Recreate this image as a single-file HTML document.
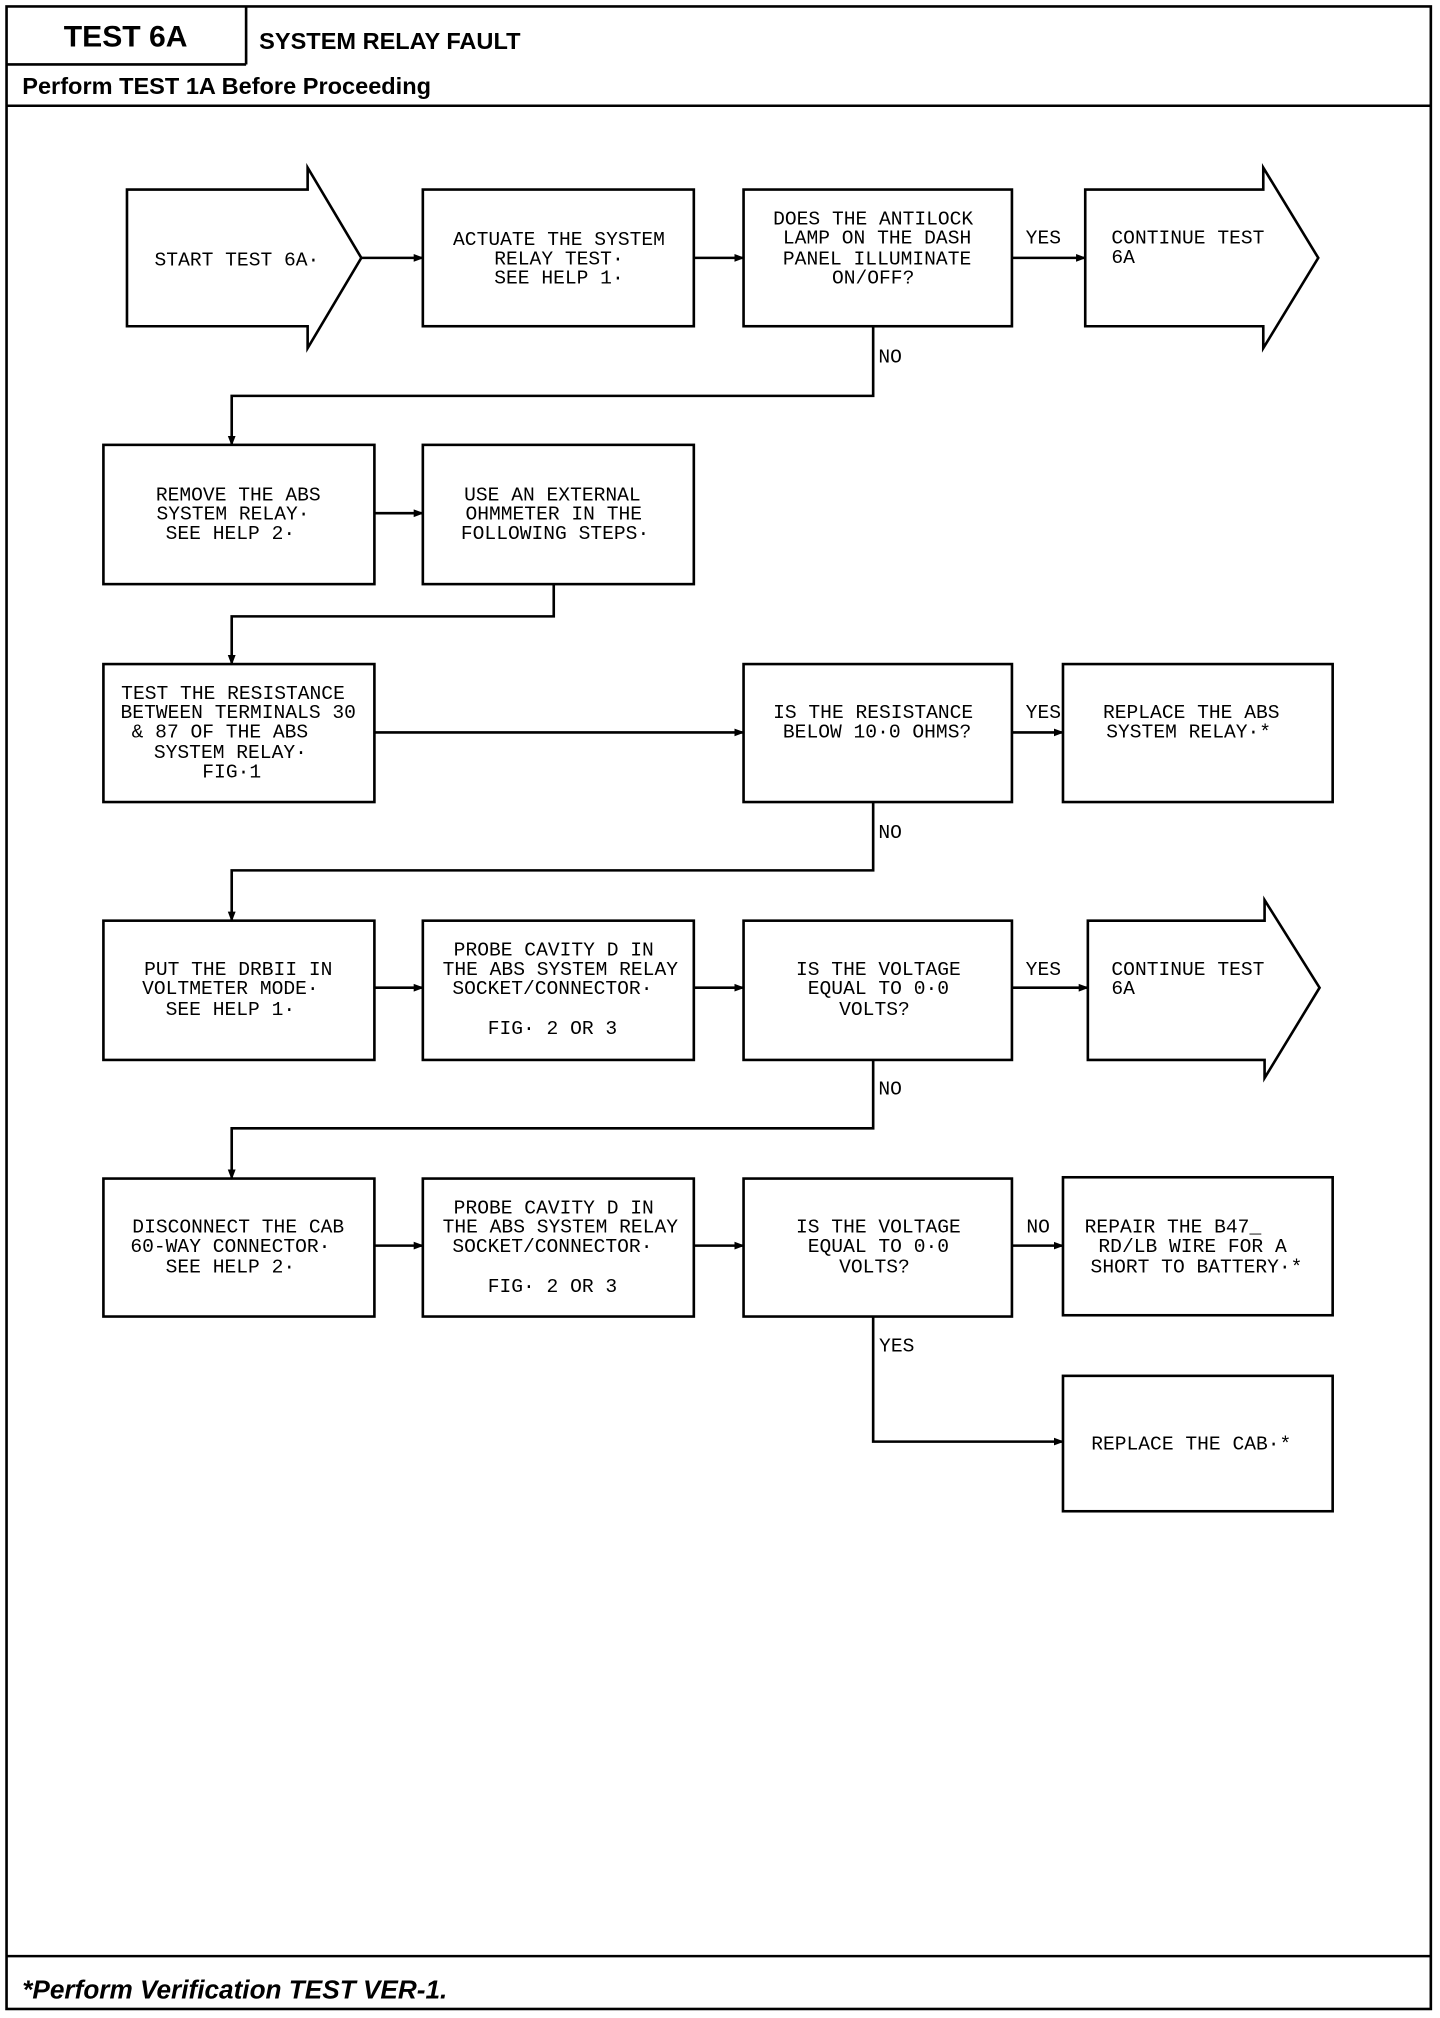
<!DOCTYPE html>
<html><head><meta charset="utf-8"><style>
html,body{margin:0;padding:0;background:#fff;}
svg{display:block;}
.b{font-family:"Liberation Sans",sans-serif;font-weight:bold;}
.m{font-family:"Liberation Mono",monospace;font-size:15px;}
</style></head><body>
<svg width="1440" height="2018" viewBox="0 0 1100 1565" preserveAspectRatio="none" xmlns="http://www.w3.org/2000/svg">
<defs><marker id="a" markerWidth="8" markerHeight="8" refX="7" refY="4" orient="auto" markerUnits="userSpaceOnUse"><path d="M0,1 L8,4 L0,7 z" fill="#000"/></marker></defs>
<g fill="none" stroke="#000" stroke-width="2">
<rect x="5" y="5" width="1088" height="1553"/>
<line x1="188" y1="5" x2="188" y2="50"/>
<line x1="5" y1="50" x2="188" y2="50"/>
<line x1="5" y1="82" x2="1093" y2="82"/>
<line x1="5" y1="1517" x2="1093" y2="1517"/>
<path d="M97,147 L235,147 L235,130 L276,200 L235,270 L235,253 L97,253 Z"/>
<rect x="323" y="147" width="207" height="106"/>
<rect x="568" y="147" width="205" height="106"/>
<path d="M829,147 L965,147 L965,130 L1007,200 L965,270 L965,253 L829,253 Z"/>
<rect x="79" y="345" width="207" height="108"/>
<rect x="323" y="345" width="207" height="108"/>
<rect x="79" y="515" width="207" height="107"/>
<rect x="568" y="515" width="205" height="107"/>
<rect x="812" y="515" width="206" height="107"/>
<rect x="79" y="714" width="207" height="108"/>
<rect x="323" y="714" width="207" height="108"/>
<rect x="568" y="714" width="205" height="108"/>
<path d="M831,714 L966,714 L966,698 L1008,766 L966,836 L966,822 L831,822 Z"/>
<rect x="79" y="914" width="207" height="107"/>
<rect x="323" y="914" width="207" height="107"/>
<rect x="568" y="914" width="205" height="107"/>
<rect x="812" y="913" width="206" height="107"/>
<rect x="812" y="1067" width="206" height="105"/>
</g>
<g fill="none" stroke="#000" stroke-width="2">
<line x1="276" y1="200" x2="323" y2="200" marker-end="url(#a)"/>
<line x1="530" y1="200" x2="568" y2="200" marker-end="url(#a)"/>
<line x1="773" y1="200" x2="829" y2="200" marker-end="url(#a)"/>
<polyline points="667,253 667,307 177,307 177,345" marker-end="url(#a)"/>
<line x1="286" y1="398" x2="323" y2="398" marker-end="url(#a)"/>
<polyline points="423,453 423,478 177,478 177,515" marker-end="url(#a)"/>
<line x1="286" y1="568" x2="568" y2="568" marker-end="url(#a)"/>
<line x1="773" y1="568" x2="812" y2="568" marker-end="url(#a)"/>
<polyline points="667,622 667,675 177,675 177,714" marker-end="url(#a)"/>
<line x1="286" y1="766" x2="323" y2="766" marker-end="url(#a)"/>
<line x1="530" y1="766" x2="568" y2="766" marker-end="url(#a)"/>
<line x1="773" y1="766" x2="831" y2="766" marker-end="url(#a)"/>
<polyline points="667,822 667,875 177,875 177,914" marker-end="url(#a)"/>
<line x1="286" y1="966" x2="323" y2="966" marker-end="url(#a)"/>
<line x1="530" y1="966" x2="568" y2="966" marker-end="url(#a)"/>
<line x1="773" y1="966" x2="812" y2="966" marker-end="url(#a)"/>
<polyline points="667,1021 667,1118 812,1118" marker-end="url(#a)"/>
</g>
<g class="b" fill="#000">
<text x="96" y="36" font-size="23" text-anchor="middle">TEST 6A</text>
<text x="198" y="38" font-size="18">SYSTEM RELAY FAULT</text>
<text x="17" y="73" font-size="18">Perform TEST 1A Before Proceeding</text>
<text x="17" y="1550" font-size="20" font-style="italic">*Perform Verification TEST VER-1.</text>
</g>
<g class="m" fill="#000" text-anchor="middle">
<text x="181" y="206">START TEST 6A·</text>
<text x="427" y="190">ACTUATE THE SYSTEM</text><text x="427" y="205">RELAY TEST·</text><text x="427" y="220">SEE HELP 1·</text>
<text x="667" y="174">DOES THE ANTILOCK</text><text x="670" y="189">LAMP ON THE DASH</text><text x="670" y="205">PANEL ILLUMINATE</text><text x="667" y="220">ON/OFF?</text>
<text x="797" y="189">YES</text>
<text x="680" y="281">NO</text>
<text x="182" y="388">REMOVE THE ABS</text><text x="178" y="403">SYSTEM RELAY·</text><text x="176" y="418">SEE HELP 2·</text>
<text x="422" y="388">USE AN EXTERNAL</text><text x="423" y="403">OHMMETER IN THE</text><text x="424" y="418">FOLLOWING STEPS·</text>
<text x="178" y="542">TEST THE RESISTANCE</text><text x="182" y="557">BETWEEN TERMINALS 30</text><text x="168" y="572">&amp; 87 OF THE ABS</text><text x="176" y="588">SYSTEM RELAY·</text><text x="177" y="603">FIG·1</text>
<text x="667" y="557">IS THE RESISTANCE</text><text x="670" y="572">BELOW 10·0 OHMS?</text>
<text x="797" y="557">YES</text>
<text x="910" y="557">REPLACE THE ABS</text><text x="908" y="572">SYSTEM RELAY·*</text>
<text x="680" y="650">NO</text>
<text x="182" y="756">PUT THE DRBII IN</text><text x="176" y="771">VOLTMETER MODE·</text><text x="176" y="787">SEE HELP 1·</text>
<text x="423" y="741">PROBE CAVITY D IN</text><text x="428" y="756">THE ABS SYSTEM RELAY</text><text x="422" y="771">SOCKET/CONNECTOR·</text><text x="422" y="802">FIG· 2 OR 3</text>
<text x="671" y="756">IS THE VOLTAGE</text><text x="671" y="771">EQUAL TO 0·0</text><text x="668" y="787">VOLTS?</text>
<text x="797" y="756">YES</text>
<text x="849" y="756" text-anchor="start">CONTINUE TEST</text>
<text x="849" y="771" text-anchor="start">6A</text>
<text x="849" y="189" text-anchor="start">CONTINUE TEST</text>
<text x="849" y="204" text-anchor="start">6A</text>
<text x="680" y="849">NO</text>
<text x="182" y="956">DISCONNECT THE CAB</text><text x="176" y="971">60-WAY CONNECTOR·</text><text x="176" y="987">SEE HELP 2·</text>
<text x="423" y="941">PROBE CAVITY D IN</text><text x="428" y="956">THE ABS SYSTEM RELAY</text><text x="422" y="971">SOCKET/CONNECTOR·</text><text x="422" y="1002">FIG· 2 OR 3</text>
<text x="671" y="956">IS THE VOLTAGE</text><text x="671" y="971">EQUAL TO 0·0</text><text x="668" y="987">VOLTS?</text>
<text x="793" y="956">NO</text>
<text x="896" y="956">REPAIR THE B47_</text><text x="911" y="971">RD/LB WIRE FOR A</text><text x="914" y="987">SHORT TO BATTERY·*</text>
<text x="685" y="1048">YES</text>
<text x="910" y="1124">REPLACE THE CAB·*</text>
</g>
</svg>
</body></html>
